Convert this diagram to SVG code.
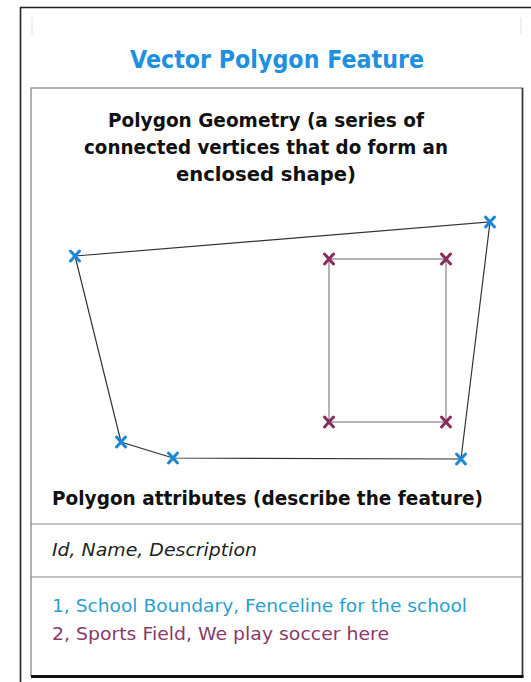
<svg xmlns="http://www.w3.org/2000/svg" width="531" height="682" viewBox="0 0 531 682">
<style>
  .t { font-family: "DejaVu Sans", "Liberation Sans", sans-serif; }
  .b { font-weight: bold; fill: #111; }
  .edge { fill: none; stroke: #333; stroke-width: 1.2; }
  .inner { fill: none; stroke: #888; stroke-width: 1.3; }
  .xb { stroke: #1a88d6; stroke-width: 3; stroke-linecap: round; }
  .xp { stroke: #8a2d5c; stroke-width: 3; stroke-linecap: round; }
  .div { stroke: #8a8a8a; stroke-width: 1.2; }
</style>
<defs>
  <g id="xm"><line x1="-4.5" y1="-5" x2="4.5" y2="5"/><line x1="4.5" y1="-5" x2="-4.5" y2="5"/></g>
</defs>
<rect width="531" height="682" fill="#fff"/>
<g id="frame">
  <line x1="20" y1="7.5" x2="531" y2="7.5" stroke="#222" stroke-width="1.6"/>
  <line x1="20.5" y1="7" x2="20.5" y2="682" stroke="#222" stroke-width="1.6"/>
  <line x1="32" y1="17" x2="32" y2="35" stroke="#e2e2e2" stroke-width="1"/>
  <line x1="521" y1="17" x2="521" y2="35" stroke="#e2e2e2" stroke-width="1"/>
</g>
<g id="title">
  <text class="t" x="277" y="68" text-anchor="middle" font-size="24" font-weight="bold" fill="#1e90e0" textLength="294" lengthAdjust="spacingAndGlyphs">Vector Polygon Feature</text>
</g>
<g id="panel">
  <rect x="31" y="88" width="491.5" height="588" fill="#fff" class="inner"/>
  <line x1="522.5" y1="88" x2="522.5" y2="677" stroke="#333" stroke-width="1.6"/>
  <line x1="31" y1="676.5" x2="523.5" y2="676.5" stroke="#111" stroke-width="3"/>
  <line class="div" x1="31" y1="524" x2="522" y2="524"/>
  <line class="div" x1="31" y1="577" x2="522" y2="577"/>
</g>
<g id="geometry-heading">
  <text class="t b" x="266" y="127" text-anchor="middle" font-size="19" textLength="316" lengthAdjust="spacingAndGlyphs">Polygon Geometry (a series of</text>
  <text class="t b" x="266" y="154" text-anchor="middle" font-size="19" textLength="364" lengthAdjust="spacingAndGlyphs">connected vertices that do form an</text>
  <text class="t b" x="266" y="181" text-anchor="middle" font-size="19" textLength="180" lengthAdjust="spacingAndGlyphs">enclosed shape)</text>
</g>
<g id="connectors">
  <polygon class="edge" points="75,256 490,222 461,459 173,458 121,442"/>
  <rect x="329" y="259" width="117" height="163" fill="none" stroke="#8c8c8c" stroke-width="1.3"/>
</g>
<g id="school-boundary">
  <use href="#xm" class="xb" x="75" y="256"/>
  <use href="#xm" class="xb" x="490" y="222"/>
  <use href="#xm" class="xb" x="461" y="459"/>
  <use href="#xm" class="xb" x="173" y="458"/>
  <use href="#xm" class="xb" x="121" y="442"/>
</g>
<g id="sports-field">
  <use href="#xm" class="xp" x="329" y="259"/>
  <use href="#xm" class="xp" x="446" y="259"/>
  <use href="#xm" class="xp" x="329" y="422"/>
  <use href="#xm" class="xp" x="446" y="422"/>
</g>
<g id="attributes-heading">
  <text class="t b" x="52" y="505" font-size="19" textLength="431" lengthAdjust="spacingAndGlyphs">Polygon attributes (describe the feature)</text>
</g>
<g id="fields">
  <text class="t" x="52" y="556" font-size="18" font-style="italic" fill="#222" textLength="205" lengthAdjust="spacingAndGlyphs">Id, Name, Description</text>
</g>
<g id="records">
  <text class="t" x="52" y="612" font-size="18" fill="#2a9fd0" textLength="415" lengthAdjust="spacingAndGlyphs">1, School Boundary, Fenceline for the school</text>
  <text class="t" x="52" y="640" font-size="18" fill="#8a3a68" textLength="337" lengthAdjust="spacingAndGlyphs">2, Sports Field, We play soccer here</text>
</g>
</svg>
